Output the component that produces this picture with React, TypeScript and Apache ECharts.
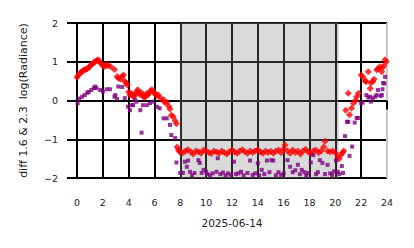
import React, { useEffect, useRef } from "react";
import * as echarts from "echarts";

// hours of the day and diff values (2.3 channel = red diamonds)
const redHours = [
  0.0, 0.1, 0.2, 0.3, 0.4, 0.5, 0.6, 0.7, 0.8, 0.9, 1.0, 1.1, 1.2, 1.3, 1.4, 1.5, 1.6, 1.7, 1.8, 1.9,
  2.0, 2.1, 2.2, 2.3, 2.4, 2.6, 2.9, 3.1, 3.2, 3.35, 3.5, 3.6, 3.7, 3.8, 3.9, 4.0, 4.1, 4.2, 4.3, 4.4,
  4.5, 4.6, 4.7, 4.8, 4.9, 5.0, 5.1, 5.2, 5.3, 5.4, 5.5, 5.6, 5.7, 5.8, 5.9, 6.0, 6.1, 6.2, 6.3, 6.5,
  6.7, 6.8, 6.95, 7.1, 7.2, 7.3, 7.45, 7.6, 7.7, 7.75, 7.85, 7.95,
  8.0, 8.2, 8.4, 8.6, 8.8, 9.0, 9.2, 9.4, 9.6, 9.8, 10.0, 10.2, 10.4, 10.6, 10.8, 11.0, 11.2, 11.4,
  11.6, 11.8, 12.0, 12.2, 12.4, 12.6, 12.8, 13.0, 13.2, 13.4, 13.6, 13.8, 14.0, 14.2, 14.4, 14.6,
  14.8, 15.0, 15.2, 15.4, 15.6, 15.8, 16.0, 16.1, 16.3, 16.5, 16.7, 16.9, 17.1, 17.3, 17.5, 17.7,
  17.9, 18.1, 18.3, 18.5, 18.7, 18.9, 19.1, 19.2, 19.4, 19.6, 19.8, 20.0, 20.2, 20.3, 20.45, 20.55,
  20.65, 20.8, 21.0, 21.1, 21.25, 21.4, 21.55, 21.65, 21.8, 22.0, 22.15, 22.3, 22.4, 22.55, 22.7,
  22.75, 22.9, 23.0, 23.2, 23.3, 23.45, 23.6, 23.65, 23.75, 23.85, 23.95,
];
const redValues = [
  0.6, 0.65, 0.7, 0.72, 0.75, 0.78, 0.8, 0.8, 0.82, 0.85, 0.88, 0.92, 0.95, 0.98, 1.0, 1.02, 1.05, 1.03, 0.98, 0.95,
  0.9, 0.88, 0.9, 0.92, 0.9, 0.88, 0.8, 0.62, 0.58, 0.55, 0.62, 0.66, 0.5, 0.45, 0.4, 0.22, 0.15, 0.18, 0.12, 0.1,
  0.15, 0.22, 0.28, 0.2, 0.15, 0.2, 0.12, 0.08, 0.1, 0.18, 0.15, 0.2, 0.25, 0.28, 0.22, 0.2, 0.15, 0.12, 0.14, 0.05,
  0.02, -0.05, -0.05, -0.15, -0.22, -0.38, -0.42, -0.52, -0.6, -1.2, -1.28, -1.32,
  -1.32, -1.35, -1.3, -1.27, -1.33, -1.38, -1.3, -1.32, -1.36, -1.28, -1.3, -1.34, -1.37, -1.3, -1.33, -1.36, -1.3, -1.34,
  -1.38, -1.32, -1.28, -1.33, -1.36, -1.3, -1.27, -1.32, -1.36, -1.3, -1.34, -1.3, -1.27, -1.33, -1.36, -1.3,
  -1.34, -1.31, -1.36, -1.3, -1.28, -1.35, -1.25, -1.15, -1.3, -1.36, -1.28, -1.34, -1.3, -1.38, -1.3, -1.26,
  -1.33, -1.37, -1.3, -1.28, -1.35, -1.3, -1.2, -1.05, -1.3, -1.33, -1.3, -1.35, -1.45, -1.5, -1.4, -1.35,
  -1.3, -0.25, 0.19, -0.37, -0.2, -0.07, 0.0, 0.1, 0.19, 0.66, 0.6, 0.5, 0.49, 0.74, 0.31,
  0.45, 0.49, 0.55, 0.79, 0.82, 0.87, 0.74, 0.85, 0.9, 1.05, 1.0,
];

// 1.6 channel = purple squares
const purpleHours = [
  0.05, 0.2, 0.4, 0.6, 0.8, 0.9, 1.1, 1.3, 1.4, 1.5, 1.8, 2.0, 2.3, 2.55, 2.9, 2.97, 3.1, 3.2, 3.5, 3.7,
  3.95, 4.1, 4.25, 4.35, 4.5, 4.6, 4.9, 5.0, 5.1, 5.4, 5.65, 5.9, 6.2, 6.4, 6.7, 6.95, 7.2, 7.3, 7.6, 7.7,
  8.0, 8.2, 8.35, 8.5, 8.6, 8.75, 8.9, 9.1, 9.4, 9.5, 9.65, 9.8, 10.0, 10.1, 10.3, 10.5, 10.8, 10.9, 11.1, 11.3,
  11.5, 11.7, 11.9, 12.15, 12.3, 12.5, 12.7, 12.9, 13.2, 13.4, 13.6, 13.8, 14.0, 14.1, 14.3, 14.5, 14.7, 14.9, 15.05, 15.2,
  15.4, 15.6, 15.8, 16.0, 16.3, 16.5, 16.7, 16.9, 17.1, 17.25, 17.4, 17.6, 17.75, 17.9, 18.1, 18.3, 18.5, 18.65, 18.8, 19.0,
  19.2, 19.4, 19.6, 19.75, 19.9, 20.05, 20.2, 20.3, 20.5, 20.6, 20.75, 20.9, 21.0, 21.1, 21.3, 21.5, 21.65, 21.75, 22.0, 22.1,
  22.4, 22.55, 22.7, 22.75, 22.9, 23.1, 23.2, 23.3, 23.5, 23.6, 23.65, 23.7, 23.8, 23.85,
];
const purpleValues = [
  -0.07, 0.05, 0.1, 0.14, 0.2, 0.22, 0.27, 0.32, 0.36, 0.32, 0.27, 0.23, 0.29, 0.29, 0.1, 0.14, 0.04, 0.36, 0.35, 0.06,
  -0.16, -0.25, -0.12, -0.12, 0.01, -0.03, -0.25, -0.83, -0.12, -0.12, -0.07, -0.03, -0.16, -0.2, -0.46, -0.46, -0.63, -0.89, -0.97, -1.6,
  -1.87, -1.87, -1.58, -1.71, -1.55, -1.84, -1.93, -1.87, -1.54, -1.61, -1.87, -1.79, -1.84, -1.9, -1.93, -1.88, -1.84, -1.49, -1.9, -1.86,
  -1.93, -1.88, -1.92, -1.58, -1.9, -1.88, -1.84, -1.93, -1.87, -1.55, -1.92, -1.88, -1.62, -1.93, -1.79, -1.9, -1.55, -1.85, -1.54, -1.55,
  -1.93, -1.85, -1.92, -1.88, -1.54, -1.71, -1.85, -1.8, -1.66, -1.9, -1.79, -1.85, -1.93, -1.87, -1.6, -1.41, -1.9, -1.85, -1.54, -1.61,
  -1.9, -1.66, -1.88, -1.92, -1.83, -1.55, -1.84, -1.9, -1.69, -1.87, -0.92, -0.55, -0.55, -1.43, -1.19, -0.57, -0.45, -0.45, -0.07, -0.05,
  0.14, 0.08, 0.1, -0.03, 0.06, 0.1, 0.14, 0.27, 0.12, 0.14, 0.29, 0.45, 0.44, 0.61,
];

const xTicks = [0, 2, 4, 6, 8, 10, 12, 14, 16, 18, 20, 22, 24];
const shadeStart = 8;
const shadeEnd = 20.22;
const xName = "2025-06-14";
const yName = "diff 1.6 & 2.3  log(Radiance)";

export default function App() {
  const ref = useRef<HTMLDivElement>(null);
  useEffect(() => {
    if (!ref.current) return;
    const chart = echarts.init(ref.current, undefined, { renderer: "svg" });
    const font = "DejaVu Sans";
    const xSplitColors = xTicks.map((t, i) => (i === xTicks.length - 1 ? "#c8c8c8" : "#000000"));
    chart.setOption({
      animation: false,
      grid: { left: 77, right: 27, top: 23, bottom: 70, containLabel: false },
      xAxis: {
        type: "value",
        min: 0,
        max: 24,
        interval: 2,
        name: xName,
        nameLocation: "middle",
        nameGap: 39,
        nameTextStyle: { fontFamily: font, fontSize: 10.5, color: "#222" },
        axisLine: { show: false },
        axisTick: { show: true, length: 9, lineStyle: { color: "#000", width: 2 } },
        axisLabel: { margin: 19, fontFamily: font, fontSize: 9.5, color: "#222" },
        splitLine: { show: true, lineStyle: { color: xSplitColors, width: 2 } },
      },
      yAxis: {
        type: "value",
        min: -2,
        max: 2,
        interval: 1,
        name: yName,
        nameLocation: "middle",
        nameRotate: 90,
        nameGap: 48,
        nameTextStyle: { fontFamily: font, fontSize: 11, color: "#222" },
        axisLine: { show: false },
        axisTick: { show: true, length: 10, lineStyle: { color: "#000", width: 2 } },
        axisLabel: {
          margin: 19,
          fontFamily: font,
          fontSize: 9.5,
          color: "#222",
          formatter: (v: number) => String(v).replace("-", "\u2212"),
        },
        splitLine: { show: true, lineStyle: { color: "#000", width: 2 } },
      },
      series: [
        {
          type: "scatter",
          name: "2.3",
          symbol: "diamond",
          symbolSize: 7,
          itemStyle: { color: "#ff0000" },
          data: redHours.map((h, i) => [h, redValues[i]]),
          z: 2,
        },
        {
          type: "scatter",
          name: "1.6",
          symbol: "rect",
          symbolSize: 4,
          itemStyle: { color: "#800080" },
          data: purpleHours.map((h, i) => [h, purpleValues[i]]),
          z: 3,
        },
        {
          type: "line",
          name: "shade",
          data: [],
          z: 5,
          silent: true,
          markArea: {
            silent: true,
            itemStyle: {
              color: "rgba(128,128,128,0.3)",
              borderColor: "rgba(128,128,128,0.35)",
              borderWidth: 1,
            },
            data: [[{ xAxis: shadeStart, yAxis: -2 }, { xAxis: shadeEnd, yAxis: 2 }]],
          },
        },
      ],
    });
    return () => chart.dispose();
  }, []);
  return <div ref={ref} style={{ width: 414, height: 248, position: "absolute", left: 0, top: 0 }} />;
}
